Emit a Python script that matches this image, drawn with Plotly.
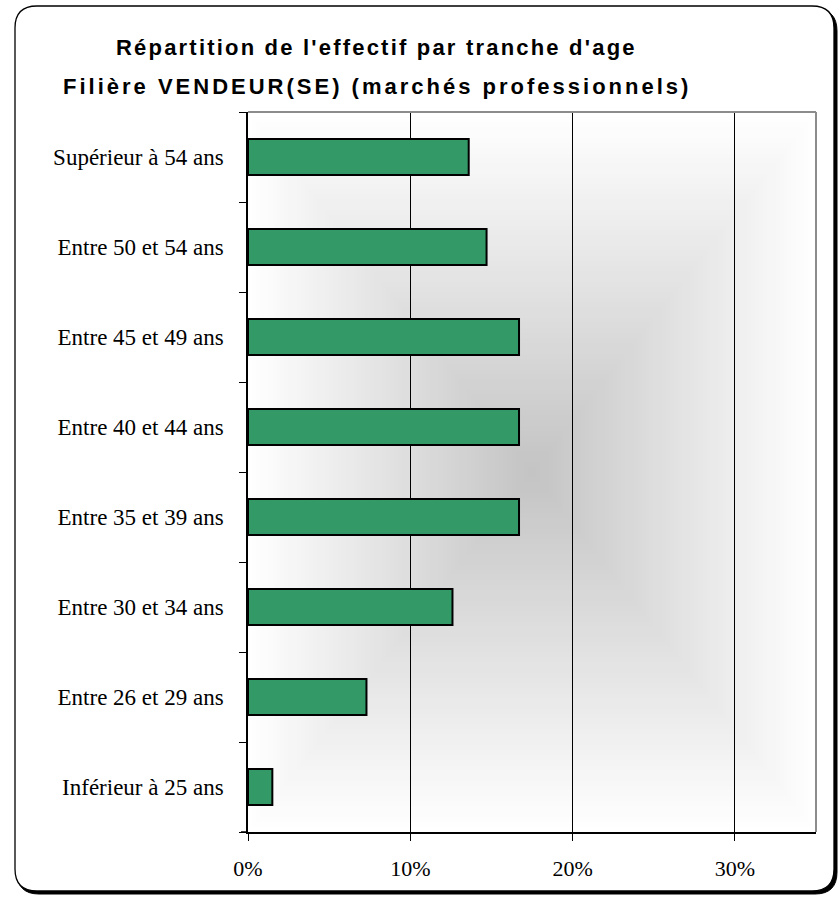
import plotly.graph_objects as go

categories = ["Inférieur à 25 ans", "Entre 26 et 29 ans", "Entre 30 et 34 ans",
              "Entre 35 et 39 ans", "Entre 40 et 44 ans", "Entre 45 et 49 ans",
              "Entre 50 et 54 ans", "Supérieur à 54 ans"]
values_pct = [1.5, 7.3, 12.6, 16.7, 16.7, 16.7, 14.7, 13.6]
x_tick_vals = [0, 0.1, 0.2, 0.3]
x_tick_text = ["0%", "10%", "20%", "30%"]
title_lines = ["Répartition de l'effectif par tranche d'age",
               "Filière VENDEUR(SE) (marchés professionnels)"]

W, H = 838, 897
L, R, T, B = 248, 22, 112, 65
PW = W - L - R
PH = H - T - B


def px(x):
    return (x - L) / PW


def py(y):
    return (H - B - y) / PH


def rounded_path(x0, y0, x1, y1, r):
    pts = [
        f"M {px(x0 + r)},{py(y0)}",
        f"L {px(x1 - r)},{py(y0)}",
        f"Q {px(x1)},{py(y0)} {px(x1)},{py(y0 + r)}",
        f"L {px(x1)},{py(y1 - r)}",
        f"Q {px(x1)},{py(y1)} {px(x1 - r)},{py(y1)}",
        f"L {px(x0 + r)},{py(y1)}",
        f"Q {px(x0)},{py(y1)} {px(x0)},{py(y1 - r)}",
        f"L {px(x0)},{py(y0 + r)}",
        f"Q {px(x0)},{py(y0)} {px(x0 + r)},{py(y0)}",
        "Z",
    ]
    return " ".join(pts)


shapes = []
# shadow
shapes.append(dict(type="path", xref="paper", yref="paper",
                   path=rounded_path(17, 9, 837, 894, 22),
                   fillcolor="black", line=dict(color="black", width=1),
                   layer="below"))
# frame
shapes.append(dict(type="path", xref="paper", yref="paper",
                   path=rounded_path(15, 6, 834, 891, 22),
                   fillcolor="white", line=dict(color="black", width=1.3),
                   layer="below"))

# rectangular "from centre" gradient in plot area
N = 70
c_edge, c_mid = 255, 195
for i in range(N):
    f = i / N
    g = round(c_edge + (c_mid - c_edge) * f)
    shapes.append(dict(type="rect", xref="paper", yref="paper",
                       x0=0.5 * f, x1=1 - 0.5 * f, y0=0.5 * f, y1=1 - 0.5 * f,
                       fillcolor=f"rgb({g},{g},{g})", line=dict(width=0),
                       layer="below"))

# gray top and right border of plot area
shapes.append(dict(type="line", xref="paper", yref="paper", x0=0, x1=1, y0=1, y1=1,
                   line=dict(color="#8c8c8c", width=2), layer="above"))
shapes.append(dict(type="line", xref="paper", yref="paper", x0=1, x1=1, y0=0, y1=1,
                   line=dict(color="#8c8c8c", width=2), layer="above"))
# small extension of the category axis baseline to the left of the value axis
shapes.append(dict(type="line", xref="paper", yref="paper", x0=px(241), x1=0, y0=0, y1=0,
                   line=dict(color="black", width=1.5), layer="above"))

fig = go.Figure()
fig.add_trace(go.Bar(
    y=categories,
    x=[v / 100 for v in values_pct],
    orientation="h",
    marker=dict(color="#339966", line=dict(color="black", width=2)),
    hoverinfo="skip",
))

title_font = dict(family="Liberation Sans, Arial", size=22, color="black", weight="bold")
annotations = [
    dict(text=f'<span style="letter-spacing:2.2px">{title_lines[0]}</span>',
         xref="paper", yref="paper", x=px(376), y=py(47),
         xanchor="center", yanchor="middle", showarrow=False, font=title_font),
    dict(text=f'<span style="letter-spacing:3.0px">{title_lines[1]}</span>',
         xref="paper", yref="paper", x=px(377), y=py(87),
         xanchor="center", yanchor="middle", showarrow=False, font=title_font),
]

fig.update_layout(
    width=W, height=H,
    margin=dict(l=L, r=R, t=T, b=B, pad=0),
    paper_bgcolor="white",
    plot_bgcolor="white",
    showlegend=False,
    bargap=0.6,
    shapes=shapes,
    annotations=annotations,
    font=dict(family="Liberation Serif, Times New Roman", size=18, color="black"),
)
fig.update_xaxes(
    range=[0, 0.35],
    tickvals=x_tick_vals, ticktext=x_tick_text,
    showgrid=True, gridcolor="black", gridwidth=1,
    showline=True, linecolor="black", linewidth=1.5,
    ticks="outside", ticklen=7, tickcolor="black", tickwidth=1,
    ticklabelstandoff=9,
    zeroline=False,
    tickfont=dict(family="Liberation Serif, Times New Roman", size=22, color="black"),
    fixedrange=True,
)
fig.update_yaxes(
    type="category",
    categoryorder="array", categoryarray=categories,
    showgrid=False,
    showline=True, linecolor="black", linewidth=1.5,
    ticks="outside", tickson="boundaries", ticklen=7, tickcolor="black", tickwidth=1,
    ticklabelstandoff=18,
    tickfont=dict(family="Liberation Serif, Times New Roman", size=23, color="black"),
    fixedrange=True,
)

fig.write_html("out.html", config={"displayModeBar": False},
               post_script="document.body.style.margin='0';document.body.style.overflow='hidden';")
